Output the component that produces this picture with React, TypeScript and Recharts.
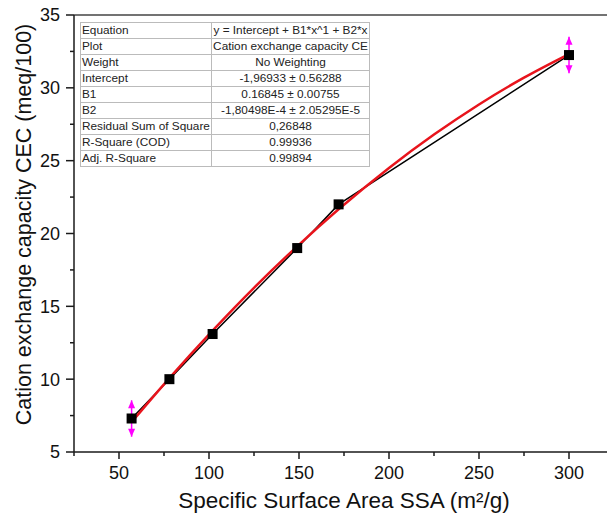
import React from 'react';
import {
  ComposedChart,
  Line,
  Scatter,
  XAxis,
  YAxis,
  ErrorBar,
  ReferenceLine,
  Label,
} from 'recharts';

// measured points: specific surface area vs cation exchange capacity
const ssa = [57, 78, 102, 149, 172, 300];
const cec = [7.3, 10.0, 13.1, 19.0, 22.0, 32.25];
const cecErr = [1.25, 0, 0, 0, 0, 1.25];

// polynomial fit curve
const fitSsa = [57, 78, 102, 125, 149, 172, 200, 225, 250, 275, 300];
const fitCec = [7.05, 10.07, 13.33, 16.27, 19.12, 21.66, 24.5, 26.79, 28.86, 30.7, 32.32];

const xTicks = [25, 50, 75, 100, 125, 150, 175, 200, 225, 250, 275, 300];
const yTicks = [5, 7.5, 10, 12.5, 15, 17.5, 20, 22.5, 25, 27.5, 30, 32.5, 35];

const fitTable = [
  ['Equation', 'y = Intercept + B1*x^1 + B2*x'],
  ['Plot', 'Cation exchange capacity CE'],
  ['Weight', 'No Weighting'],
  ['Intercept', '-1,96933 ± 0.56288'],
  ['B1', '0.16845 ± 0.00755'],
  ['B2', '-1,80498E-4 ± 2.05295E-5'],
  ['Residual Sum of Square', '0,26848'],
  ['R-Square (COD)', '0.99936'],
  ['Adj. R-Square', '0.99894'],
];

const FONT = 'Arial, "Liberation Sans", sans-serif';
const AXIS = '#1a1a1a';

const points = ssa.map((x, i) => ({ x, y: cec[i], err: cecErr[i] }));
const errPoints = points.filter((p) => p.err > 0);
const arrowUp = errPoints.map((p) => ({ x: p.x, y: p.y + p.err }));
const arrowDown = errPoints.map((p) => ({ x: p.x, y: p.y - p.err }));
const fitData = fitSsa.map((x, i) => ({ x, y: fitCec[i] }));

const XTick = (props: any) => {
  const { x, y, payload } = props;
  const major = payload.value % 50 === 0;
  return (
    <g>
      <line x1={x} y1={y} x2={x} y2={y + (major ? 7 : 4)} stroke={AXIS} strokeWidth={1.5} />
      {major && (
        <text x={x} y={y + 27} textAnchor="middle" fontSize={18} fontFamily={FONT} fill="#111">
          {payload.value}
        </text>
      )}
    </g>
  );
};

const YTick = (props: any) => {
  const { x, y, payload } = props;
  const major = payload.value % 5 === 0;
  return (
    <g>
      <line x1={x - (major ? 8 : 4)} y1={y} x2={x} y2={y} stroke={AXIS} strokeWidth={1.5} />
      {major && (
        <text x={x - 14} y={y} dy="0.36em" textAnchor="end" fontSize={18} fontFamily={FONT} fill="#111">
          {payload.value}
        </text>
      )}
    </g>
  );
};

// rotated y title, nudged a little above the axis centre
const YTitle = (props: any) => {
  const { viewBox } = props;
  const cx = viewBox.x + 24;
  const cy = viewBox.y + viewBox.height / 2 - 9;
  return (
    <text
      x={cx}
      y={cy}
      transform={`rotate(-90, ${cx}, ${cy})`}
      textAnchor="middle"
      dominantBaseline="central"
      fontSize={21.5}
      fontFamily={FONT}
      fill="#111"
    >
      Cation exchange capacity CEC (meq/100)
    </text>
  );
};

const Square = (props: any) => {
  const { cx, cy } = props;
  return <rect x={cx - 5} y={cy - 5} width={10} height={10} fill="#000" />;
};

const Head = (dir: 1 | -1) => (props: any) => {
  const { cx, cy } = props;
  return (
    <polygon
      points={`${cx},${cy} ${cx - 3.5},${cy + dir * 8} ${cx + 3.5},${cy + dir * 8}`}
      fill="#ff00ff"
    />
  );
};

const Empty = () => <g />;

const cell = {
  border: '1px solid #bbb',
  whiteSpace: 'nowrap' as const,
  overflow: 'hidden',
  lineHeight: '15px',
};

const FitTable = () => (
  <table
    style={{
      position: 'absolute',
      left: 80,
      top: 22,
      width: 289,
      borderCollapse: 'collapse',
      tableLayout: 'fixed',
      fontFamily: FONT,
      fontSize: 11.8,
      color: '#222',
      background: '#fff',
      border: '1.5px solid #666',
    }}
  >
    <colgroup>
      <col style={{ width: 131 }} />
      <col style={{ width: 158 }} />
    </colgroup>
    <tbody>
      {fitTable.map(([k, v]) => (
        <tr key={k} style={{ height: 16 }}>
          <td style={{ ...cell, padding: '0 0 0 1px' }}>{k}</td>
          <td style={{ ...cell, padding: 0, textAlign: 'center' }}>{v}</td>
        </tr>
      ))}
    </tbody>
  </table>
);

export default function App() {
  return (
    <div style={{ position: 'absolute', left: 0, top: 0, width: 607, height: 523, overflow: 'hidden', background: '#fff' }}>
      <ComposedChart width={614} height={523} margin={{ top: 15, right: 0, bottom: 0, left: 0 }}>
        <XAxis
          xAxisId="x"
          type="number"
          dataKey="x"
          domain={[25, 325]}
          ticks={xTicks}
          interval={0}
          height={71}
          tickSize={0}
          tickMargin={0}
          tickLine={false}
          tick={<XTick />}
          axisLine={{ stroke: AXIS, strokeWidth: 1.5 }}
        >
          <Label
            value="Specific Surface Area SSA (m²/g)"
            position="insideBottom"
            offset={15}
            style={{ fontSize: 22.5, fontFamily: FONT, fill: '#111' }}
          />
        </XAxis>
        <YAxis
          yAxisId="y"
          type="number"
          domain={[5, 35]}
          ticks={yTicks}
          interval={0}
          width={74}
          tickSize={0}
          tickMargin={0}
          tickLine={false}
          tick={<YTick />}
          axisLine={{ stroke: AXIS, strokeWidth: 1.5 }}
        >
          <Label content={<YTitle />} />
        </YAxis>
        <ReferenceLine xAxisId="x" yAxisId="y" y={35} stroke="#444" strokeWidth={1.5} />

        <Line
          xAxisId="x"
          yAxisId="y"
          data={points}
          dataKey="y"
          type="linear"
          stroke="#000"
          strokeWidth={1.5}
          dot={false}
          activeDot={false}
          isAnimationActive={false}
        />
        <Scatter xAxisId="x" yAxisId="y" data={points} dataKey="y" shape={<Square />} isAnimationActive={false} />
        <Line
          xAxisId="x"
          yAxisId="y"
          data={fitData}
          dataKey="y"
          type="monotone"
          stroke="#e8141c"
          strokeWidth={2.5}
          dot={false}
          activeDot={false}
          isAnimationActive={false}
        />
        <Scatter xAxisId="x" yAxisId="y" data={errPoints} dataKey="y" shape={<Empty />} isAnimationActive={false}>
          <ErrorBar dataKey="err" direction="y" width={0} stroke="#ff00ff" strokeWidth={1.5} isAnimationActive={false} />
        </Scatter>
        <Scatter xAxisId="x" yAxisId="y" data={arrowUp} dataKey="y" shape={Head(1)} isAnimationActive={false} />
        <Scatter xAxisId="x" yAxisId="y" data={arrowDown} dataKey="y" shape={Head(-1)} isAnimationActive={false} />
      </ComposedChart>
      <FitTable />
    </div>
  );
}
